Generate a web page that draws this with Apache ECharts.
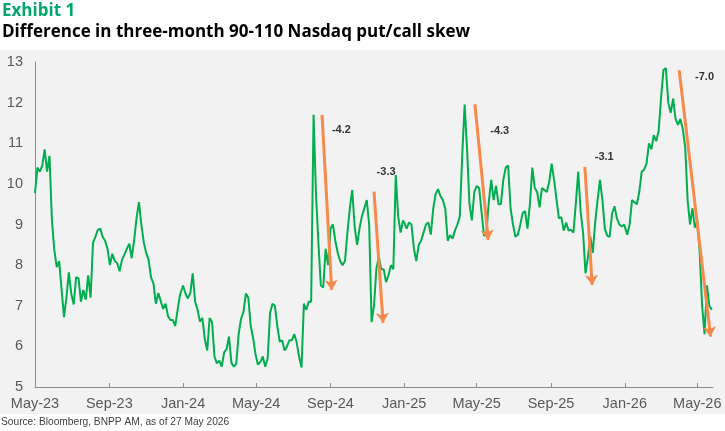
<!DOCTYPE html>
<html>
<head>
<meta charset="utf-8">
<script src="https://cdn.jsdelivr.net/npm/echarts@6/dist/echarts.min.js"></script>
<style>
  html, body {margin: 0; padding: 0; background: #fff;}
  #main {width: 725px; height: 431px;}
</style>
</head>
<body>
<div id="main"></div>
<script>
// skew readings, one every 4 days from each start date
var stepDays = 4;
var start2023 = '2023-05-01';
var skew2023 = [9.77, 10.4, 10.3, 10.45, 10.85, 10.3, 10.69, 9.1, 8.37, 7.95,
    8.1, 7.4, 6.72, 7.2, 7.82, 7.3, 7.03, 7.7, 7.68, 7.1,
    7.39, 7.15, 7.75, 7.2, 8.55, 8.7, 8.87, 8.9, 8.7, 8.6,
    8.4, 8.0, 8.28, 8.1, 8.05, 7.85, 8.13, 8.26, 8.4, 8.53,
    8.17, 8.6, 9.15, 9.55, 9.0, 8.56, 8.3, 8.13, 7.7, 7.55,
    7.05, 7.31, 7.12, 6.92, 7.05, 6.75, 6.65, 6.65, 6.5, 6.9,
    7.27, 7.45];
var start2024 = '2024-01-01';
var skew2024 = [7.5, 7.3, 7.18, 7.31, 7.8, 7.1, 6.9, 6.61, 6.7, 6.18,
    5.9, 6.7, 6.6, 5.75, 5.58, 5.65, 5.5, 5.85, 5.93, 6.24,
    5.6, 5.5, 5.57, 6.3, 6.68, 6.85, 7.3, 7.2, 6.5, 6.2,
    5.8, 5.55, 5.62, 5.75, 5.5, 5.7, 6.82, 7.05, 7.0, 6.5,
    6.12, 6.15, 5.9, 6.0, 6.15, 6.15, 6.3, 6.1, 5.75, 5.48,
    7.05, 6.9, 7.1, 7.1, 11.7, 9.75, 8.55, 7.5, 7.45, 8.4,
    8.0, 8.9, 9.0, 8.6, 8.3, 8.1, 8.0, 8.1, 8.8, 9.4,
    9.85, 8.95, 8.5, 8.9, 9.2, 9.4, 9.6, 9.0, 6.6, 7.0,
    7.92, 8.2, 7.9, 7.9, 7.58, 7.75, 8.0, 7.9, 10.22, 9.2,
    8.8, 9.1];
var start2025 = '2025-01-01';
var skew2025 = [9.05, 8.9, 9.05, 9.0, 8.41, 8.1, 8.5, 8.6, 8.8, 9.0,
    9.05, 8.75, 9.39, 9.75, 9.87, 9.7, 9.6, 9.38, 8.6, 8.74,
    8.65, 8.85, 9.0, 9.2, 10.7, 11.95, 10.85, 9.5, 9.1, 9.8,
    9.95, 9.9, 9.31, 8.72, 8.8, 9.56, 10.1, 9.6, 9.95, 9.5,
    9.5, 10.1, 10.4, 10.45, 9.4, 9.0, 8.7, 8.75, 8.99, 9.28,
    9.33, 8.9, 9.5, 10.4, 9.9, 9.8, 9.42, 9.9, 9.85, 9.8,
    10.05, 10.5, 10.1, 9.62, 9.15, 9.18, 8.85, 9.05, 8.85, 8.87,
    8.8, 9.52, 10.3, 9.31, 8.8, 7.8, 8.2, 8.7, 8.3, 9.05,
    9.6, 10.1, 9.6, 8.9, 8.72, 8.7, 9.27, 9.45, 9.15, 9.0,
    8.95, 9.0];
var start2026 = '2026-01-01';
var skew2026 = [8.95, 8.75, 9.0, 9.6, 9.55, 9.5, 9.8, 10.3, 10.35, 10.5,
    11.0, 10.85, 11.2, 11.05, 11.3, 12.11, 12.8, 12.85, 12.0, 11.75,
    12.1, 11.6, 11.45, 11.6, 11.35, 10.9, 9.6, 9.0, 9.4, 8.92,
    9.1, 8.3, 7.0, 6.3, 7.5, 7.0, 6.9];

// x axis ticks
var tickDates = ['2023-05-01', '2023-09-01', '2024-01-01', '2024-05-01', '2024-09-01',
    '2025-01-01', '2025-05-01', '2025-09-01', '2026-01-01', '2026-05-01'];
var monthNames = ['Jan', 'Feb', 'Mar', 'Apr', 'May', 'Jun', 'Jul', 'Aug', 'Sep', 'Oct', 'Nov', 'Dec'];

// orange arrows and their labels
var arrowFrom = ['2024-08-18', '2024-11-12', '2025-04-28', '2025-10-27', '2026-04-01'];
var arrowFromVal = [11.7, 9.81, 11.96, 10.42, 12.8];
var arrowTo = ['2024-09-03', '2024-11-27', '2025-05-20', '2025-11-08', '2026-05-23'];
var arrowToVal = [7.39, 6.58, 8.62, 7.51, 6.24];
var arrowText = ['-4.2', '-3.3', '-4.3', '-3.1', '-7.0'];
var labelDate = ['2024-09-19', '2024-12-02', '2025-06-08', '2025-11-28', '2026-05-13'];
var labelVal = [11.33, 10.29, 11.3, 10.66, 12.63];

function toTime(s, addDays) {
    var p = s.split('-');
    return new Date(+p[0], +p[1] - 1, +p[2] + (addDays || 0)).getTime();
}
function build(start, vals) {
    return vals.map(function (v, i) { return [toTime(start, i * stepDays), v]; });
}

var lineData = [].concat(build(start2023, skew2023), build(start2024, skew2024),
    build(start2025, skew2025), build(start2026, skew2026));

var arrows = arrowFrom.map(function (d, i) {
    return [{coord: [toTime(d), arrowFromVal[i]]}, {coord: [toTime(arrowTo[i]), arrowToVal[i]]}];
});
var labels = labelDate.map(function (d, i) { return [toTime(d), labelVal[i]]; });
var tickTimes = tickDates.map(function (d) { return toTime(d); });

var chart = echarts.init(document.getElementById('main'));
var axisGrey = '#595959';

chart.setOption({
    animation: false,
    backgroundColor: '#fff',
    graphic: [{
        type: 'rect', left: 0, top: 50, z: -10,
        shape: {width: 725, height: 364},
        style: {fill: '#f2f2f2'}
    }],
    title: [
        {text: 'Exhibit 1', left: 2, top: 3, padding: 0,
            textStyle: {color: '#00a86b', fontSize: 17, fontWeight: 'bold', fontFamily: 'Open Sans'}},
        {text: 'Difference in three-month 90-110 Nasdaq put/call skew', left: 2, top: 24, padding: 0,
            textStyle: {color: '#000', fontSize: 17, fontWeight: 'bold', fontFamily: 'Open Sans'}},
        {text: 'Source: Bloomberg, BNPP AM, as of 27 May 2026', left: 1, top: 417, padding: 0,
            textStyle: {color: '#404040', fontSize: 10.2, fontWeight: 'normal', fontFamily: 'Liberation Sans'}}
    ],
    grid: {left: 35, right: 12, top: 62, bottom: 44},
    xAxis: {
        type: 'value',
        min: toTime('2023-05-01'),
        max: toTime('2026-05-27'),
        axisLine: {show: true, lineStyle: {color: '#8c8c8c', width: 1}},
        axisTick: {show: true, inside: true, length: 4, customValues: tickTimes,
            lineStyle: {color: '#8c8c8c'}},
        axisLabel: {
            customValues: tickTimes,
            color: axisGrey, fontSize: 14.5, fontFamily: 'Liberation Sans', margin: 9,
            formatter: function (v) {
                var d = new Date(v);
                return monthNames[d.getMonth()] + '-' + String(d.getFullYear()).slice(2);
            }
        },
        splitLine: {show: false}
    },
    yAxis: {
        type: 'value',
        min: 5, max: 13, interval: 1,
        axisLine: {show: true, lineStyle: {color: '#8c8c8c', width: 1}},
        axisTick: {show: false},
        axisLabel: {color: axisGrey, fontSize: 14.5, fontFamily: 'Liberation Sans', margin: 12},
        splitLine: {show: false}
    },
    series: [
        {
            type: 'line',
            data: lineData,
            showSymbol: false,
            lineStyle: {color: '#00ae4f', width: 2},
            itemStyle: {color: '#00ae4f'},
            markLine: {
                silent: true,
                symbol: ['none', 'arrow'],
                symbolSize: 10,
                label: {show: false},
                lineStyle: {color: '#f7894a', width: 3, type: 'solid'},
                data: arrows
            },
            z: 2
        },
        {
            type: 'scatter',
            data: labels,
            symbolSize: 0,
            silent: true,
            label: {
                show: true, position: 'inside',
                color: '#000', fontSize: 11, fontWeight: 'bold', fontFamily: 'Liberation Sans',
                formatter: function (p) { return arrowText[p.dataIndex]; }
            },
            z: 3
        }
    ]
});
</script>
</body>
</html>
